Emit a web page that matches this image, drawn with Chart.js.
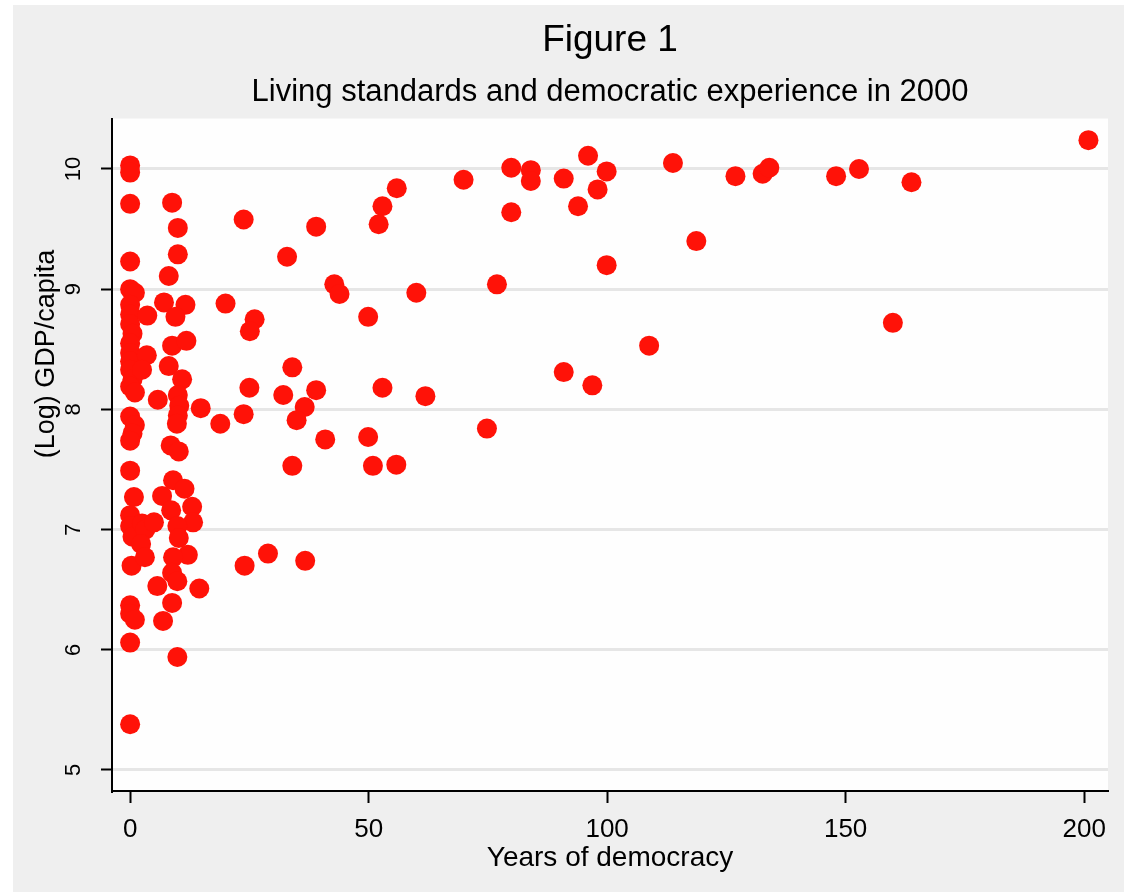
<!DOCTYPE html>
<html>
<head>
<meta charset="utf-8">
<script src="https://cdn.jsdelivr.net/npm/chart.js@4/dist/chart.umd.min.js"></script>
<style>
html,body{margin:0;padding:0;background:#ffffff;}
#wrap{width:1124px;height:892px;}
</style>
</head>
<body>
<div id="wrap"><canvas id="c" width="1124" height="892"></canvas></div>
<script>
// Years of democracy (x) and log GDP per capita (y)
const years = [
  0, 0, 0, 0, 0, 1, 0, 0, 0, 0.5, 0, 0, 0, 0, 0.5, 0, 1, 0, 1, 0.5, 0, 0, 0.8, 0, 0, 0.5, 0.3, 0, 0, 1, 0, 0,
  3.6, 3.5, 2.5, 2.5, 3.2, 2.3, 3.1, 5, 5.8, 5.7, 6.7, 6.9, 7.1, 8.1, 8.8, 10, 10, 11.6, 9.5, 8.8, 11.8, 8.1, 10.9,
  10, 10.3, 10, 9.8, 8.5, 10.2, 9, 11.4, 8.6, 13, 13.2, 9.9, 10.2, 12.1, 9, 8.8, 9.9, 14.5, 8.8, 9.9, 14.8,
  20, 23.8, 39, 32.9, 42.8, 43.9, 26.1, 25.1, 34, 25, 32.1, 39, 36.6, 34.9, 23.8, 18.9, 40.9, 34, 24, 28.9, 36.7,
  55.9, 52.9, 52.1, 69.9, 60, 76.9, 49.9, 52.9, 61.9, 74.8, 49.9, 50.9, 55.8,
  79.9, 84, 84, 79.9, 90.9, 96, 99.9, 98, 93.9, 113.8, 118.7, 99.9, 126.9, 132.6, 134, 148, 152.8, 163.8, 200.9,
  159.9, 108.8, 90.9, 96.9
];
const gdp = [
  10.03, 9.97, 9.71, 9.23, 9.0, 8.97, 8.87, 8.79, 8.71, 8.63, 8.55, 8.47, 8.4, 8.33, 8.25, 8.19, 8.14, 7.94, 7.87, 7.8, 7.74, 7.49, 7.27, 7.12, 7.03, 6.94, 6.7, 6.37, 6.3, 6.25, 6.06, 5.38,
  8.78, 8.45, 8.33, 7.05, 7.0, 6.88, 6.77, 7.06, 8.08, 6.53, 7.28, 6.24, 8.89, 9.11, 9.72, 9.51, 9.29, 8.87, 8.77, 8.53, 8.57, 8.36, 8.25,
  8.12, 8.03, 7.95, 7.88, 7.7, 7.65, 7.41, 7.34, 7.16, 7.19, 7.06, 7.03, 6.93, 6.79, 6.77, 6.64, 6.57, 6.51, 6.39, 5.94, 8.01,
  8.88, 9.58, 9.52, 9.27, 9.04, 8.96, 8.75, 8.65, 8.35, 8.18, 8.12, 8.16, 8.02, 7.91, 7.96, 7.88, 7.75, 7.53, 6.7, 6.8, 6.74,
  9.84, 9.69, 9.54, 9.91, 8.97, 9.04, 8.77, 8.18, 8.11, 7.84, 7.77, 7.53, 7.54,
  10.01, 9.99, 9.9, 9.64, 9.92, 10.11, 9.98, 9.83, 9.69, 10.05, 9.4, 9.2, 9.94, 9.96, 10.01, 9.94, 10.0, 9.89, 10.24,
  8.72, 8.53, 8.31, 8.2
];
const xTickValues = [0, 50, 100, 150, 200];
const yTickValues = [5, 6, 7, 8, 9, 10];

const titleText = 'Figure 1';
const subtitleText = 'Living standards and democratic experience in 2000';
const xTitleText = 'Years of democracy';
const yTitleText = '(Log) GDP/capita';

const FONT = '"Liberation Sans", Arial, Helvetica, sans-serif';
const RED = 'rgb(255,18,8)';

const points = years.map((x, i) => ({ x: x, y: gdp[i] }));

const bgPlugin = {
  id: 'bg',
  beforeDraw(chart) {
    const ctx = chart.ctx, a = chart.chartArea;
    ctx.save();
    ctx.fillStyle = '#ffffff';
    ctx.fillRect(0, 0, chart.width, chart.height);
    ctx.fillStyle = '#efefef';
    ctx.fillRect(13, 5, chart.width - 13, chart.height - 5);
    ctx.fillStyle = '#fefefe';
    ctx.fillRect(a.left, a.top, a.right - a.left, a.bottom - a.top);
    ctx.restore();
  },
  afterDraw(chart) {
    const ctx = chart.ctx;
    ctx.save();
    ctx.translate(47, 354);
    ctx.rotate(-Math.PI / 2);
    ctx.textAlign = 'center';
    ctx.textBaseline = 'middle';
    ctx.fillStyle = '#000';
    ctx.font = '27px ' + FONT;
    ctx.fillText(yTitleText, 0, 0);
    ctx.restore();
  }
};

new Chart(document.getElementById('c'), {
  type: 'scatter',
  data: {
    datasets: [{
      data: points,
      backgroundColor: RED,
      borderColor: RED,
      borderWidth: 0,
      pointRadius: 10,
      pointHoverRadius: 10
    }]
  },
  options: {
    responsive: false,
    animation: false,
    devicePixelRatio: 1,
    layout: { padding: { top: 0, right: 16, bottom: 0, left: 0 } },
    plugins: {
      legend: { display: false },
      tooltip: { enabled: false },
      title: {
        display: true, text: titleText, fullSize: false,
        color: '#000', font: { family: FONT, size: 37, weight: 'normal' },
        padding: { top: 19, bottom: 5 }
      },
      subtitle: {
        display: true, text: subtitleText, fullSize: false,
        color: '#000', font: { family: FONT, size: 31, weight: 'normal' },
        padding: { top: 5, bottom: 7.9 }
      }
    },
    scales: {
      x: {
        type: 'linear',
        min: -3.8, max: 205,
        afterFit(scale) { scale.height = 101; },
        afterBuildTicks(scale) { scale.ticks = xTickValues.map(v => ({ value: v })); },
        ticks: { color: '#000', font: { family: FONT, size: 26 }, padding: 11, maxRotation: 0, minRotation: 0 },
        grid: { display: true, drawOnChartArea: false, drawTicks: true, tickLength: 12, tickColor: '#000', tickWidth: 2 },
        border: { display: true, color: '#000', width: 2 },
        title: { display: true, text: xTitleText, color: '#000', font: { family: FONT, size: 28 }, padding: { top: 0, bottom: 17 } }
      },
      y: {
        type: 'linear',
        min: 4.825, max: 10.42,
        afterFit(scale) { scale.width = 112; },
        afterBuildTicks(scale) { scale.ticks = yTickValues.map(v => ({ value: v })); },
        ticks: { color: '#000', font: { family: FONT, size: 22 }, padding: 14.8, minRotation: 90, maxRotation: 90, crossAlign: 'center' },
        grid: { display: true, drawOnChartArea: true, color: '#e6e6e6', lineWidth: 3, drawTicks: true, tickLength: 11, tickColor: '#000', tickWidth: 2 },
        border: { display: true, color: '#000', width: 2 }
      }
    }
  },
  plugins: [bgPlugin]
});
</script>
</body>
</html>
